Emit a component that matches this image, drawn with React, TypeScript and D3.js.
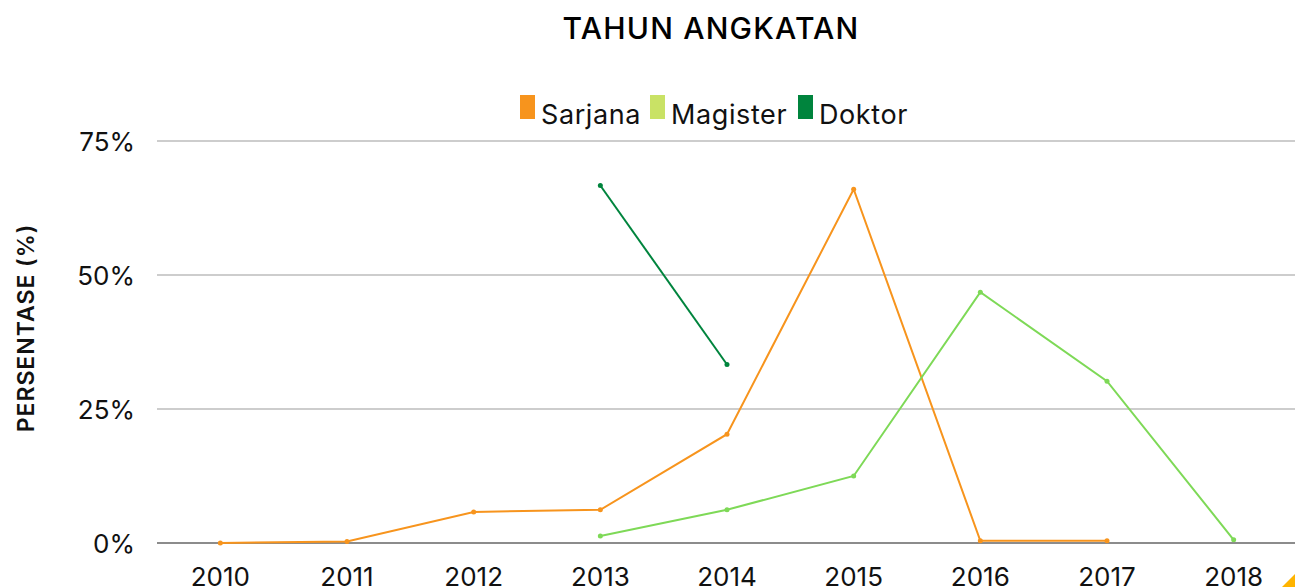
import React, { useRef, useEffect } from 'react';
import * as d3 from 'd3';

const years = ['2010', '2011', '2012', '2013', '2014', '2015', '2016', '2017', '2018'];
const sarjana: (number | null)[] = [0, 0.3, 5.8, 6.2, 20.3, 66.0, 0.4, 0.4, null];
const magister: (number | null)[] = [null, null, null, 1.3, 6.2, 12.5, 46.8, 30.2, 0.6];
const doktor: (number | null)[] = [null, null, null, 66.7, 33.3, null, null, null, null];
const yTicks = [0, 25, 50, 75];

const series = [
  { name: 'Sarjana', values: sarjana, line: '#F7941D', swatch: '#F7941D' },
  { name: 'Magister', values: magister, line: '#7ED957', swatch: '#C9E265' },
  { name: 'Doktor', values: doktor, line: '#00843D', swatch: '#00843D' },
];

const App: React.FC = () => {
  const svgRef = useRef<SVGSVGElement | null>(null);

  useEffect(() => {
    if (!svgRef.current) return;
    const w = 1295;
    const h = 587;
    const svg = d3.select(svgRef.current).attr('width', w).attr('height', h);
    svg.selectAll('*').remove();

    const font = "Inter, 'Open Sans', sans-serif";
    const left = 157;

    const x = d3.scaleBand<string>().domain(years).range([left, 1297]);
    const y = d3.scaleLinear().domain([0, 75]).range([543, 141]);

    // gridlines
    svg
      .append('g')
      .selectAll('line')
      .data(yTicks)
      .join('line')
      .attr('x1', left)
      .attr('x2', w)
      .attr('y1', (d) => y(d))
      .attr('y2', (d) => y(d))
      .attr('stroke', (d) => (d === 0 ? '#666' : '#bdbdbd'))
      .attr('stroke-width', 1.5);

    // y tick labels
    svg
      .append('g')
      .selectAll('text')
      .data(yTicks)
      .join('text')
      .attr('x', 135)
      .attr('y', (d) => y(d) + 10)
      .attr('text-anchor', 'end')
      .attr('font-family', font)
      .attr('font-size', 26)
      .attr('fill', '#111')
      .text((d) => `${d}%`);

    // x tick labels
    svg
      .append('g')
      .selectAll('text')
      .data(years)
      .join('text')
      .attr('x', (d) => (x(d) ?? 0) + x.bandwidth() / 2)
      .attr('y', 586)
      .attr('text-anchor', 'middle')
      .attr('font-family', font)
      .attr('font-size', 26)
      .attr('fill', '#111')
      .text((d) => d);

    // title
    svg
      .append('text')
      .attr('x', 711)
      .attr('y', 39)
      .attr('text-anchor', 'middle')
      .attr('font-family', font)
      .attr('font-weight', 500)
      .attr('font-size', 30)
      .attr('letter-spacing', 1.2)
      .attr('fill', '#000')
      .text('TAHUN ANGKATAN');

    // y axis title
    svg
      .append('text')
      .attr('transform', 'translate(34, 328) rotate(-90)')
      .attr('text-anchor', 'middle')
      .attr('font-family', font)
      .attr('font-weight', 600)
      .attr('font-size', 23)
      .attr('letter-spacing', 1)
      .attr('fill', '#111')
      .text('PERSENTASE (%)');

    // legend
    const legendX = [520, 650, 798];
    const legend = svg
      .append('g')
      .selectAll('g')
      .data(series)
      .join('g')
      .attr('transform', (_, i) => `translate(${legendX[i]}, 95)`);
    legend
      .append('rect')
      .attr('width', 15)
      .attr('height', 24)
      .attr('fill', (d) => d.swatch);
    legend
      .append('text')
      .attr('x', 21)
      .attr('y', 29)
      .attr('font-family', font)
      .attr('font-size', 27)
      .attr('letter-spacing', 0.6)
      .attr('fill', '#111')
      .text((d) => d.name);

    // lines
    const cx = (i: number) => (x(years[i]) ?? 0) + x.bandwidth() / 2;
    const lineGenerator = d3
      .line<number | null>()
      .defined((d) => d !== null)
      .x((_, i) => cx(i))
      .y((d) => y(d as number));

    series.forEach((s) => {
      svg
        .append('path')
        .datum(s.values)
        .attr('d', lineGenerator)
        .attr('fill', 'none')
        .attr('stroke', s.line)
        .attr('stroke-width', 2);
      svg
        .append('g')
        .selectAll('circle')
        .data(s.values.map((v, i) => ({ v, i })).filter((d) => d.v !== null))
        .join('circle')
        .attr('cx', (d) => cx(d.i))
        .attr('cy', (d) => y(d.v as number))
        .attr('r', 2.5)
        .attr('fill', s.line);
    });

    // corner mark
    svg
      .append('path')
      .attr('d', `M${w},${h - 13} L${w},${h} L${w - 13},${h} Z`)
      .attr('fill', '#FFB400');
  }, []);

  return (
    <div style={{ position: 'absolute', top: 0, left: 0 }}>
      <svg ref={svgRef} style={{ display: 'block' }}></svg>
    </div>
  );
};

export default App;
